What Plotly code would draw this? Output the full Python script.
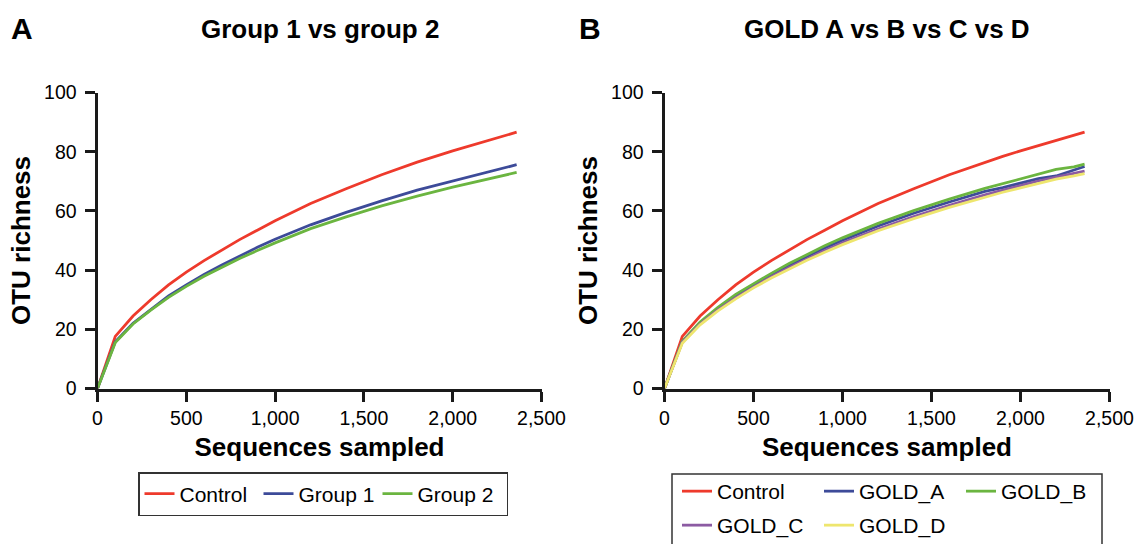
import plotly.graph_objects as go

# ---- Data ----
seq_A = [0, 100, 200, 300, 400, 500, 600, 700, 800, 900, 1000, 1200, 1400, 1600, 1800, 2000, 2200, 2360]
control_A = [0, 17.6, 24.5, 30.0, 35.0, 39.3, 43.2, 46.8, 50.3, 53.5, 56.7, 62.5, 67.5, 72.2, 76.5, 80.3, 83.8, 86.6]
group1_A = [0, 15.8, 22.0, 26.8, 31.3, 35.0, 38.5, 41.7, 44.8, 47.7, 50.4, 55.3, 59.5, 63.4, 67.0, 70.1, 73.2, 75.6]
group2_A = [0, 15.5, 21.8, 26.5, 30.8, 34.5, 37.9, 41.0, 43.9, 46.6, 49.2, 54.0, 58.0, 61.7, 65.0, 68.0, 70.8, 73.0]

seq_B = [0, 100, 200, 300, 400, 500, 600, 700, 800, 900, 1000, 1200, 1400, 1600, 1800, 1900, 2000, 2100, 2200, 2300, 2360]
control_B = [0, 17.6, 24.5, 30.0, 35.0, 39.3, 43.2, 46.8, 50.3, 53.5, 56.7, 62.5, 67.5, 72.2, 76.5, 78.4, 80.3, 82.1, 83.8, 85.5, 86.6]
gold_a = [0, 15.9, 22.2, 27.0, 31.3, 35.0, 38.4, 41.6, 44.6, 47.5, 50.1, 54.9, 59.2, 63.0, 66.6, 67.9, 69.5, 70.9, 71.8, 73.8, 75.0]
gold_b = [0, 16.0, 22.5, 27.4, 31.8, 35.4, 38.9, 42.2, 45.3, 48.2, 50.9, 55.8, 60.1, 64.0, 67.6, 69.2, 70.7, 72.2, 74.0, 74.9, 75.8]
gold_c = [0, 15.6, 21.8, 26.6, 30.7, 34.4, 37.8, 40.9, 43.8, 46.6, 49.2, 53.9, 58.1, 61.9, 65.4, 67.0, 68.6, 70.1, 71.4, 72.6, 73.4]
gold_d = [0, 15.3, 21.5, 26.2, 30.3, 34.0, 37.3, 40.4, 43.3, 46.0, 48.6, 53.3, 57.4, 61.2, 64.7, 66.3, 67.8, 69.3, 70.7, 71.8, 72.6]

x_ticks = [0, 500, 1000, 1500, 2000, 2500]
x_ticklabels = ["0", "500", "1,000", "1,500", "2,000", "2,500"]
y_ticks = [0, 20, 40, 60, 80, 100]

RED = "#EE3A2C"
BLUE = "#3D4B99"
GREEN = "#6BB540"
PURPLE = "#8C5BA3"
YELLOW = "#EEE66E"

W, H = 1135, 544
FONT = "Liberation Sans, Arial, sans-serif"

fig = go.Figure()

def add(x, y, name, color, xa, ya, legend, lw=None):
    fig.add_trace(go.Scatter(x=x, y=y, name=name, mode="lines",
                             line=dict(color=color, width=2.8),
                             xaxis=xa, yaxis=ya, legend=legend, legendwidth=lw))

add(seq_A, control_A, "Control", RED, "x", "y", "legend")
add(seq_A, group1_A, "Group 1", BLUE, "x", "y", "legend")
add(seq_A, group2_A, "Group 2", GREEN, "x", "y", "legend", lw=84)

add(seq_B, control_B, "Control", RED, "x2", "y2", "legend2")
add(seq_B, gold_a, "GOLD_A", BLUE, "x2", "y2", "legend2")
add(seq_B, gold_b, "GOLD_B", GREEN, "x2", "y2", "legend2")
add(seq_B, gold_c, "GOLD_C", PURPLE, "x2", "y2", "legend3")
add(seq_B, gold_d, "GOLD_D", YELLOW, "x2", "y2", "legend3")

def px_x(p):
    return p / W

def px_y(p):
    return 1 - p / H

axis_common = dict(showline=True, linecolor="#1a1a1a", linewidth=3, ticks="outside",
                   ticklen=10, tickwidth=3, tickcolor="#1a1a1a", showgrid=False,
                   zeroline=False, automargin=False,
                   tickfont=dict(family=FONT, size=19.5, color="black"))

ydom = [px_y(388.5), px_y(92.5)]
xtitle = dict(text="<b>Sequences sampled</b>", font=dict(size=26), standoff=10)
ytitle = dict(text="<b>OTU richness</b>", font=dict(size=26), standoff=6)

leg_common = dict(orientation="h", xanchor="left", yanchor="top",
                  font=dict(family=FONT, size=21), itemwidth=30,
                  entrywidthmode="pixels", bgcolor="rgba(0,0,0,0)")

fig.update_layout(
    width=W, height=H, margin=dict(l=0, r=0, t=0, b=0, autoexpand=False),
    paper_bgcolor="white", plot_bgcolor="white",
    font=dict(family=FONT, color="black"),
    xaxis=dict(domain=[px_x(97.5), px_x(541.5)], range=[0, 2500], tickvals=x_ticks,
               ticktext=x_ticklabels, anchor="y", title=xtitle, **axis_common),
    yaxis=dict(domain=ydom, range=[0, 100], tickvals=y_ticks, anchor="x",
               title=ytitle, ticklabelstandoff=4, **axis_common),
    xaxis2=dict(domain=[px_x(664.5), px_x(1109.5)], range=[0, 2500], tickvals=x_ticks,
                ticktext=x_ticklabels, anchor="y2", title=xtitle, **axis_common),
    yaxis2=dict(domain=ydom, range=[0, 100], tickvals=y_ticks, anchor="x2",
                title=ytitle, ticklabelstandoff=4, **axis_common),
    legend=dict(x=px_x(138), y=px_y(472), bordercolor="#333", borderwidth=1.5,
                entrywidth=74, **leg_common),
    legend2=dict(x=px_x(677), y=px_y(471), borderwidth=0, entrywidth=97, **leg_common),
    legend3=dict(x=px_x(677), y=px_y(505), borderwidth=0, entrywidth=97, **leg_common),
    showlegend=True,
)

# outer frame of legend B (extends past the bottom edge, as in the reference)
fig.add_shape(type="rect", xref="paper", yref="paper",
              x0=px_x(672), x1=px_x(1102), y0=px_y(474), y1=px_y(570),
              line=dict(color="#333", width=1.5), fillcolor="rgba(0,0,0,0)")

annots = [
    dict(text="<b>A</b>", x=px_x(9), y=px_y(28), xanchor="left", size=30),
    dict(text="<b>B</b>", x=px_x(577), y=px_y(28), xanchor="left", size=30),
    dict(text="<b>Group 1 vs group 2</b>", x=px_x(320), y=px_y(29), xanchor="center", size=26),
    dict(text="<b>GOLD A vs B vs C vs D</b>", x=px_x(887), y=px_y(29), xanchor="center", size=26),
]
for a in annots:
    fig.add_annotation(xref="paper", yref="paper", yanchor="middle", showarrow=False,
                       text=a["text"], x=a["x"], y=a["y"], xanchor=a["xanchor"],
                       font=dict(family=FONT, color="black", size=a["size"]))

fig.write_html("out.html")
